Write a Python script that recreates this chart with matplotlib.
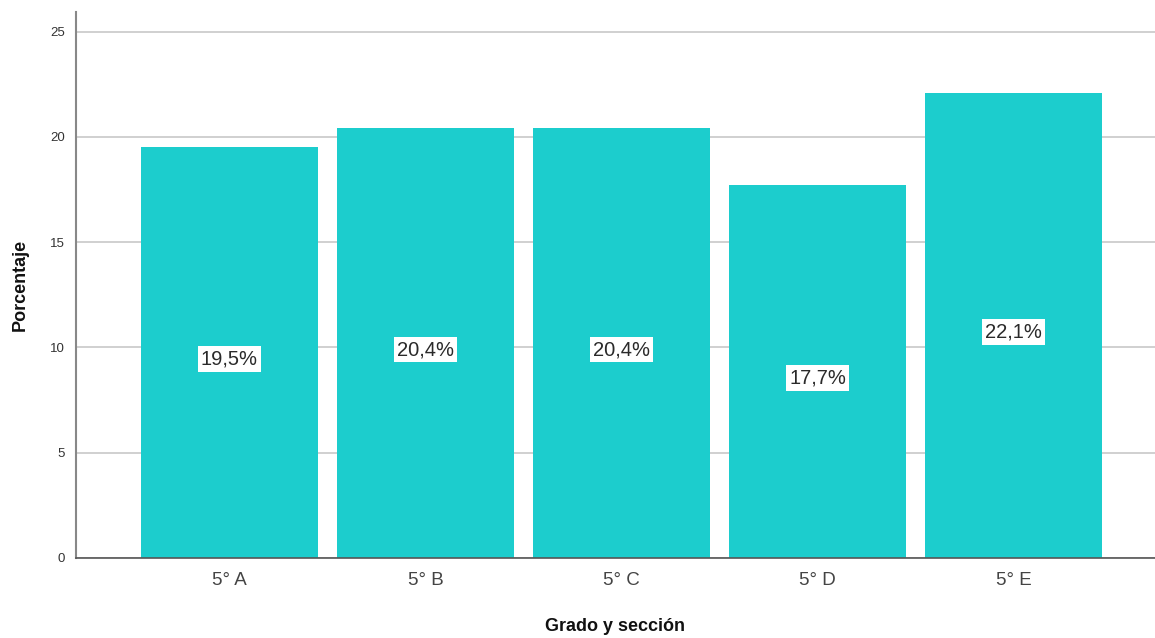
#coding=utf8
import matplotlib
matplotlib.use('Agg')
import matplotlib.pyplot as plt
import numpy as np

# Data
categorias = ['5° A', '5° B', '5° C', '5° D', '5° E']
porcentajes = [19.5, 20.4, 20.4, 17.7, 22.1]
etiquetas = ['19,5%', '20,4%', '20,4%', '17,7%', '22,1%']

myfont = 'Liberation Sans'
barcolor = '#1ccdcd'

fig = plt.figure(figsize=(11.55, 6.38), dpi=100)
ax = fig.add_axes([0.0658, 0.1254, 0.9342, 0.8558])

x = np.arange(len(categorias))
ax.bar(x, porcentajes, width=0.9, color=barcolor, zorder=2)

# Labels inside the bars
for xi, v, lab in zip(x, porcentajes, etiquetas):
    ax.text(xi, v / 2 - 0.3, lab, ha='center', va='center', fontname=myfont,
            fontsize=14.5, color='#2a2a2a', zorder=3,
            bbox=dict(facecolor='white', edgecolor='none', pad=2.5))

ax.set_xlim(-0.783, 4.722)
ax.set_ylim(0, 25.93)
ax.set_yticks([0, 5, 10, 15, 20, 25])
ax.set_xticks(x)
ax.set_xticklabels(categorias, fontname=myfont, fontsize=13.5, color='#444444')
for t in ax.get_yticklabels():
    t.set_fontname(myfont)
    t.set_fontsize(9.5)
    t.set_color('#333333')
ax.tick_params(axis='both', length=0)
ax.tick_params(axis='x', pad=10)
ax.tick_params(axis='y', pad=8)

# Grid
ax.yaxis.grid(True, color='#c8c8c8', linewidth=1.2, zorder=1)
ax.set_axisbelow(True)

for side in ['top', 'right']:
    ax.spines[side].set_visible(False)
ax.spines['left'].set_color('#888888')
ax.spines['left'].set_linewidth(1.5)
ax.spines['bottom'].set_color('#555555')
ax.spines['bottom'].set_linewidth(1.2)

ax.set_ylabel('Porcentaje', fontname=myfont, fontsize=13, fontweight='bold',
              color='#111111', labelpad=15)
ax.set_xlabel('Grado y sección', fontname=myfont, fontsize=13, fontweight='bold',
              color='#111111', labelpad=21)

fig.savefig('out.png', dpi=100)
